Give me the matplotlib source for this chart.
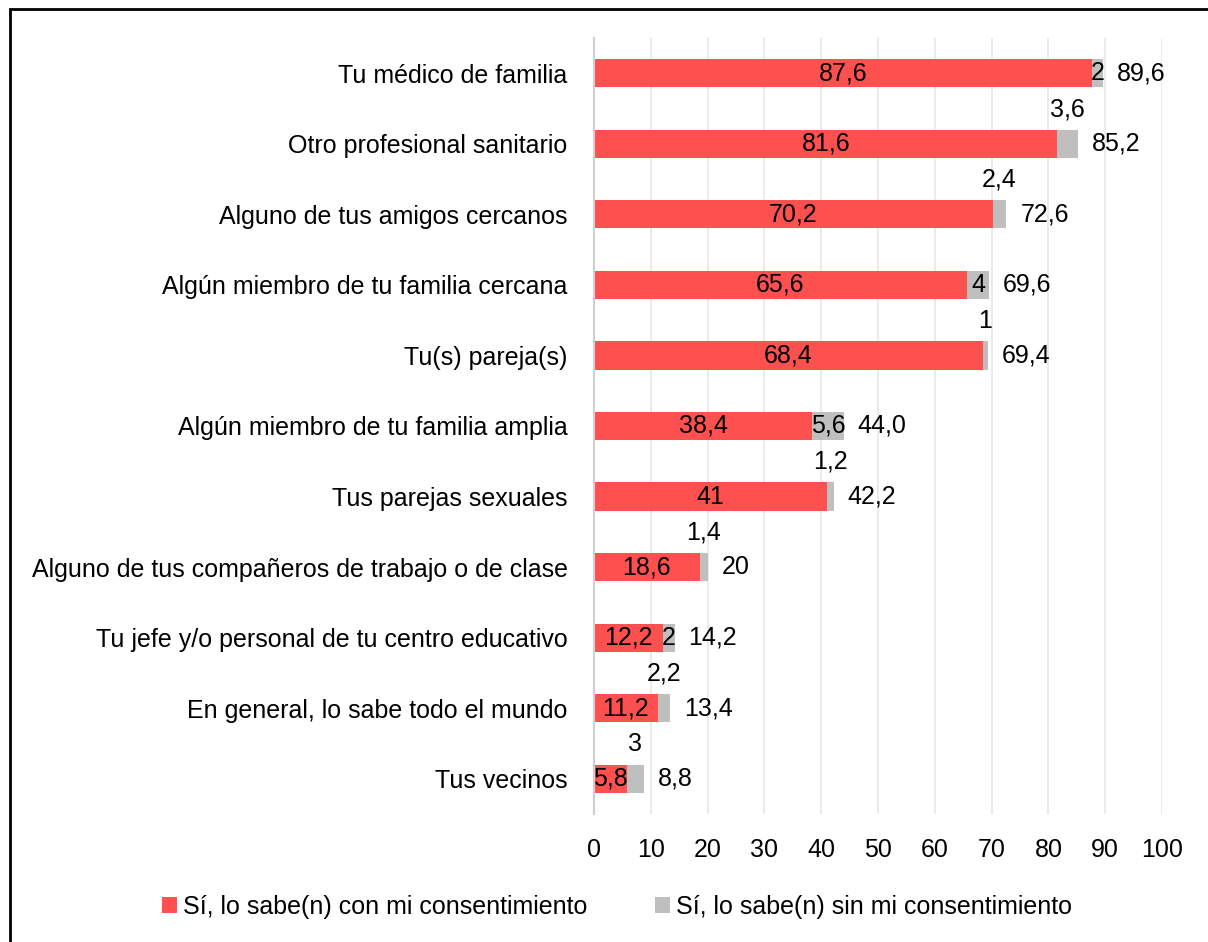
import matplotlib
matplotlib.use("Agg")
import matplotlib.pyplot as plt
from matplotlib.patches import Rectangle, Patch
import numpy as np

categories = [
    "Tu médico de familia",
    "Otro profesional sanitario",
    "Alguno de tus amigos cercanos",
    "Algún miembro de tu familia cercana",
    "Tu(s) pareja(s)",
    "Algún miembro de tu familia amplia",
    "Tus parejas sexuales",
    "Alguno de tus compañeros de trabajo o de clase",
    "Tu jefe y/o personal de tu centro educativo",
    "En general, lo sabe todo el mundo",
    "Tus vecinos",
]
con_consent = [87.6, 81.6, 70.2, 65.6, 68.4, 38.4, 41, 18.6, 12.2, 11.2, 5.8]
sin_consent = [2, 3.6, 2.4, 4, 1, 5.6, 1.2, 1.4, 2, 2.2, 3]
total_labels = ["89,6", "85,2", "72,6", "69,6", "69,4", "44,0", "42,2", "20", "14,2", "13,4", "8,8"]
# gray label placed inside the segment (True) or above the bar (False)
gray_inside = [True, False, False, True, False, True, False, False, True, False, False]
series_names = ["Sí, lo sabe(n) con mi consentimiento", "Sí, lo sabe(n) sin mi consentimiento"]
xticks = list(range(0, 101, 10))

RED = "#FF5050"
GRAY = "#BFBFBF"
FS = 18

plt.rcParams['font.family'] = ['Liberation Sans', 'DejaVu Sans']

fig = plt.figure(figsize=(12.08, 9.42), dpi=100)
ax = fig.add_axes([594/1208, 1-814/942, (1162-594)/1208, (814-38)/942])

y = np.arange(len(categories))
ax.barh(y, con_consent, height=0.4, color=RED, zorder=3)
ax.barh(y, sin_consent, left=con_consent, height=0.4, color=GRAY, zorder=3)

def fmt(v):
    return f"{v:g}".replace('.', ',')

for i in range(len(categories)):
    c, s = con_consent[i], sin_consent[i]
    ax.text(c/2, i, fmt(c), ha='center', va='center', fontsize=FS, color='black', zorder=4)
    if gray_inside[i]:
        ax.text(c + s/2, i, fmt(s), ha='center', va='center', fontsize=FS, zorder=4)
    else:
        ax.text(c + s/2, i - 0.49, fmt(s), ha='center', va='center', fontsize=FS, zorder=4)
    ax.annotate(total_labels[i], xy=(c + s, i), xytext=(10, 0), textcoords='offset points',
                ha='left', va='center', fontsize=FS, zorder=4)

ax.set_xlim(0, 100)
ax.set_ylim(len(categories) - 0.5, -0.5)
ax.set_yticks(y)
ax.set_yticklabels(categories, fontsize=FS)
ax.set_xticks(xticks)
ax.set_xticklabels([str(t) for t in xticks], fontsize=FS)
ax.tick_params(axis='both', length=0)
ax.tick_params(axis='y', pad=19)
ax.tick_params(axis='x', pad=17)
ax.grid(axis='x', color='#E8E8E8', linewidth=1.2, zorder=0)
for sp in ['top', 'right', 'bottom']:
    ax.spines[sp].set_visible(False)
ax.spines['left'].set_color('#D0D0D0')
ax.spines['left'].set_linewidth(1.5)
ax.spines['left'].set_zorder(5)

handles = [Patch(facecolor=RED, edgecolor='none'), Patch(facecolor=GRAY, edgecolor='none')]
fig.legend(handles, series_names, loc='center', bbox_to_anchor=(0.511, 1-907/942), ncol=2,
           frameon=False, fontsize=FS, handlelength=0.6, handleheight=0.6,
           handletextpad=0.25, columnspacing=2.7)

border = Rectangle((10/1208, -0.05), 1.2, 1 - 9/942 + 0.05, transform=fig.transFigure,
                   fill=False, edgecolor='black', linewidth=2, zorder=10)
fig.patches.append(border)

fig.savefig("out.png", dpi=100)
